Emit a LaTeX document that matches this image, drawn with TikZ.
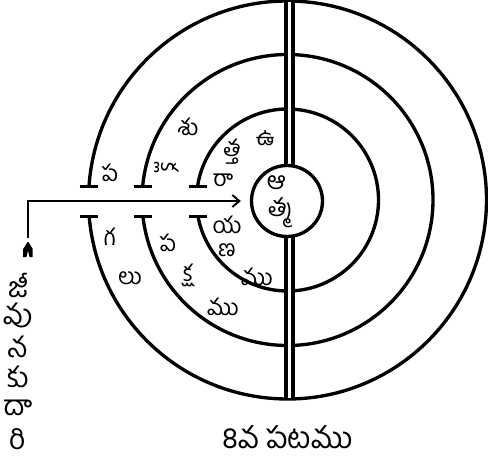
\documentclass[tikz,border=0pt]{standalone}
\usepackage{fontspec}
\newfontfamily\telugu[Script=Telugu]{Hind Guntur}
\usetikzlibrary{arrows.meta, positioning, calc}
\tikzset{
  ringline/.style={line width=1.9pt},
  ringcap/.style={line width=1.9pt},
  axisline/.style={line width=2.2pt, double distance=1.9pt},
  ringlabel/.style={font=\telugu\fontsize{13}{15}\selectfont, inner sep=0pt},
  atmalabel/.style={font=\telugu\fontsize{14}{16}\selectfont, inner sep=0pt},
  pathlabel/.style={font=\telugu\fontsize{16}{18}\selectfont, inner sep=0pt},
  captionlabel/.style={font=\telugu\fontsize{17}{19}\selectfont, inner sep=0pt},
  guidearrow/.style={
    line width=1.1pt, -{Straight Barb[length=1.4mm, width=2.4mm]}
  },
}

\begin{document}
\begin{tikzpicture}
  \useasboundingbox (-5.75,-5.38) rectangle (4.01,4.0);

  % Three rings, open on the left
  \foreach \r/\n in {3.98/outer, 2.91/middle, 1.82/inner}{
    \pgfmathsetmacro\ta{180-asin(0.27/\r)}
    \pgfmathsetmacro\tb{180+asin(0.33/\r)-360}
    \draw[ringline] (\ta:\r) arc[start angle=\ta, end angle=\tb, radius=\r];
    \coordinate (\n top) at (\ta:\r);
    \coordinate (\n bot) at (\tb:\r);
    \draw[ringcap] ([xshift=-0.18cm]\n top) -- ([xshift=0.18cm]\n top);
    \draw[ringcap] ([xshift=-0.18cm]\n bot) -- ([xshift=0.18cm]\n bot);
  }

  % Vertical double line
  \coordinate (axistop) at (0.04,3.95);
  \coordinate (axisbot) at (0.04,-3.95);
  \draw[axisline] (axistop) -- (axisbot);

  % Centre
  \node[circle, draw, fill=white, line width=1.9pt, minimum size=1.42cm,
    inner sep=0pt] (atma) at (-0.01,-0.02) {};
  \node[atmalabel] (atmaA) at (-0.22,0.34) {ఆ};
  \node[atmalabel] (atmaB) at (-0.14,-0.26) {త్మ};

  % Path of the soul
  \coordinate (tail) at (-5.19,-1.14);
  \coordinate (tailtop) at (-5.19,-0.76);
  \fill (tail) ++(0.03,0) -- ++(0.065,0) -- ++(0,0.16) -- ++(-0.085,0.14)
    -- ++(-0.02,0) -- ++(-0.085,-0.14) -- ++(0,-0.16) -- ++(0.065,0)
    -- ++(0.03,0.13) -- cycle;
  \draw[guidearrow, shorten >=0.18cm] (tailtop) |- (atma.west);
  \foreach \s [count=\k] in {జీ,వు,న,కు,దా,రి}
    \node[pathlabel] (jiva\k) at (-5.39,{-1.70-0.615*(\k-1)}) {\s};

  % Outer ring
  \node[ringlabel] (o1) at (-3.55,0.54) {ప};
  \node[ringlabel] (o2) at (-3.55,-0.74) {గ};
  \node[ringlabel] (o3) at (-3.15,-1.56) {లు};

  % Middle ring
  \node[ringlabel] (m1) at (-1.99,1.46) {శు};
  \node[ringlabel, rotate=-90] (m2) at (-2.41,0.66) {క్ల};
  \node[ringlabel] (m3) at (-2.39,-0.86) {ప};
  \node[ringlabel] (m4) at (-1.99,-1.5) {క్ష};
  \node[ringlabel] (m5) at (-1.29,-2.14) {ము};

  % Inner ring
  \node[ringlabel] (i1) at (-0.45,1.24) {ఉ};
  \node[ringlabel] (i2) at (-1.11,0.96) {త్త};
  \node[ringlabel] (i3) at (-1.29,0.4) {రా};
  \node[ringlabel] (i4) at (-1.21,-0.5) {య};
  \node[ringlabel] (i5) at (-1.21,-1.0) {ణ};
  \node[ringlabel] (i6) at (-0.61,-1.54) {ము};

  \node[captionlabel] (caption) at (0,-4.74) {8వ పటము};
\end{tikzpicture}
\end{document}
